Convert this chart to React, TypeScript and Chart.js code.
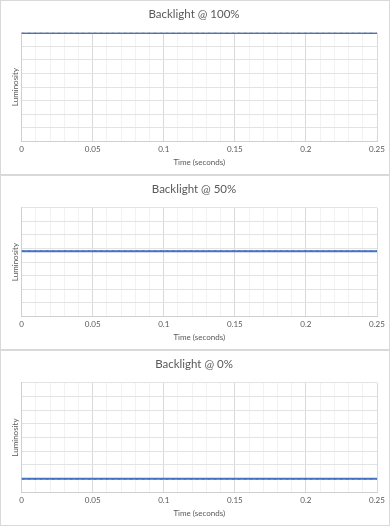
import React, { useEffect, useRef } from "react";
import { Chart, registerables } from "chart.js";

Chart.register(...registerables);

const titles = ["Backlight @ 100%", "Backlight @ 50%", "Backlight @ 0%"];
const times = [0, 0.05, 0.1, 0.15, 0.2, 0.25];
const lum100 = [7.98, 7.98, 7.98, 7.98, 7.98, 7.98];
const lum50 = [4.8, 4.8, 4.8, 4.8, 4.8, 4.8];
const lum0 = [1.0, 1.0, 1.0, 1.0, 1.0, 1.0];
const series = [lum100, lum50, lum0];
const yMin = 0;
const yMax = 8;
const xMin = 0;
const xMax = 0.25;
const xLabelTicks = ["0", "0.05", "0.1", "0.15", "0.2", "0.25"];

const FONT = "Lato, 'Open Sans', sans-serif";
const TXT = "#595959";

function Panel({ idx, height }: { idx: number; height: number }) {
  const ref = useRef<HTMLCanvasElement>(null);
  useEffect(() => {
    if (!ref.current) return;
    const vals = series[idx];
    const pts = times.map((t, i) => ({ x: t, y: vals[i] }));
    const chart = new Chart(ref.current, {
      type: "line",
      data: {
        datasets: [
          {
            data: pts,
            borderColor: "#4472C4",
            borderWidth: 2,
            pointRadius: 0,
            tension: 0,
          },
          {
            data: pts,
            borderColor: "#2F5597",
            borderWidth: 1.5,
            borderDash: [3, 3],
            pointRadius: 0,
            tension: 0,
          },
        ],
      },
      options: {
        animation: false,
        responsive: false,
        maintainAspectRatio: false,
        layout: { padding: { left: 10, right: 12, top: 4, bottom: 7 } },
        plugins: {
          legend: { display: false },
          tooltip: { enabled: false },
          title: {
            display: true,
            text: titles[idx],
            color: TXT,
            font: { family: FONT, size: 11.5, weight: "normal" },
            padding: { top: 2, bottom: 12 },
          },
        },
        scales: {
          x: {
            type: "linear",
            min: xMin,
            max: xMax,
            border: { color: "#d0d0d0" },
            grid: {
              drawTicks: false,
              color: (ctx: any) => {
                const v = ctx.tick ? ctx.tick.value : 0;
                const k = v * 20;
                return Math.abs(k - Math.round(k)) < 1e-6 ? "#d9d9d9" : "#f2f2f2";
              },
            },
            ticks: {
              stepSize: 0.01,
              autoSkip: false,
              maxRotation: 0,
              padding: 4,
              color: TXT,
              font: { family: FONT, size: 8, lineHeight: 1 },
              callback: (v: any) => {
                const k = Number(v) * 20;
                if (Math.abs(k - Math.round(k)) < 1e-6) return xLabelTicks[Math.round(k)];
                return "";
              },
            },
            title: {
              display: true,
              text: "Time (seconds)",
              color: TXT,
              font: { family: FONT, size: 8 },
              padding: { top: 0, bottom: 0 },
            },
          },
          y: {
            min: yMin,
            max: yMax,
            border: { color: "#d0d0d0" },
            grid: { drawTicks: false, color: "#e3e3e3" },
            ticks: { stepSize: 1, display: false },
            title: {
              display: true,
              text: "Luminosity",
              color: TXT,
              font: { family: FONT, size: 8 },
              padding: { top: 0, bottom: 1 },
            },
          },
        },
      },
    } as any);
    return () => chart.destroy();
  }, [idx]);
  return (
    <div
      style={{
        boxSizing: "border-box",
        width: 390,
        height,
        border: "1px solid #d9d9d9",
        background: "#fff",
      }}
    >
      <canvas ref={ref} width={388} height={height - 2} style={{ display: "block" }} />
    </div>
  );
}

export default function App() {
  return (
    <div style={{ position: "fixed", left: 0, top: 0, width: 390, height: 526, background: "#fff" }}>
      <Panel idx={0} height={175} />
      <Panel idx={1} height={175} />
      <Panel idx={2} height={176} />
    </div>
  );
}
